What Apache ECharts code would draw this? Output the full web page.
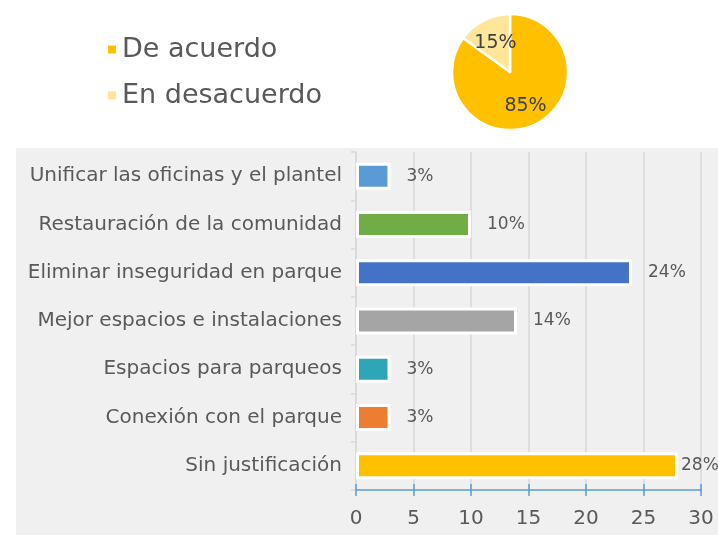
<!DOCTYPE html>
<html>
<head>
<meta charset="utf-8">
<script src="https://cdn.jsdelivr.net/npm/echarts@6/dist/echarts.min.js"></script>
<style>
  html, body { margin: 0; padding: 0; background: #ffffff; }
  #chart { width: 718px; height: 535px; }
</style>
</head>
<body>
<div id="chart"></div>
<script>
// Opinion split (pie)
const opinionNames = ['De acuerdo', 'En desacuerdo'];
const opinionValues = [85, 15];
const opinionColors = ['#FFC000', '#FFE699'];

// Justification breakdown (bars), listed top to bottom
const reasons = [
  'Unificar las oficinas y el plantel',
  'Restauración de la comunidad',
  'Eliminar inseguridad en parque',
  'Mejor espacios e instalaciones',
  'Espacios para parqueos',
  'Conexión con el parque',
  'Sin justificación'
];
const reasonValues = [3, 10, 24, 14, 3, 3, 28];
const reasonColors = ['#5B9BD5', '#70AD47', '#4472C4', '#A5A5A5', '#2EA6B7', '#ED7D31', '#FFC000'];
const axisTicks = [0, 5, 10, 15, 20, 25, 30];

const FONT = 'DejaVu Sans';
const TEXT = '#595959';
const AXIS_BLUE = '#5B9BD5';

// category axis draws bottom-up, so reverse for top-to-bottom order
const catsRev = reasons.slice().reverse();
const barData = reasonValues.map((v, i) => ({
  value: v,
  itemStyle: { color: reasonColors[i] },
  label: { distance: v >= 28 ? 3 : 16 }
})).reverse();

const pieData = opinionNames.map((n, i) => ({
  name: n,
  value: opinionValues[i],
  itemStyle: { color: opinionColors[i] },
  label: { offset: i === 0 ? [1, 6] : [0, 0] }
}));

const valueAxisBase = {
  type: 'value',
  min: axisTicks[0],
  max: axisTicks[axisTicks.length - 1],
  interval: 5,
  position: 'bottom'
};

const chart = echarts.init(document.getElementById('chart'));
chart.setOption({
  animation: false,
  textStyle: { fontFamily: FONT },
  graphic: [{
    type: 'rect',
    z: -10,
    shape: { x: 16, y: 148, width: 702, height: 387 },
    style: { fill: '#F0F0F0' }
  }],
  legend: {
    orient: 'vertical',
    left: 101,
    top: 31,
    itemWidth: 10,
    itemHeight: 10,
    itemGap: 19,
    icon: 'rect',
    data: opinionNames,
    textStyle: { fontFamily: FONT, fontSize: 27, color: TEXT, padding: [0, 0, 0, 0] }
  },
  grid: { left: 356, right: 17, top: 152, bottom: 45, containLabel: false },
  xAxis: [
    Object.assign({}, valueAxisBase, {
      axisLine: { show: true, lineStyle: { color: AXIS_BLUE, width: 1.5 } },
      axisTick: { show: true, inside: false, length: 6, lineStyle: { color: AXIS_BLUE, width: 1.5 } },
      splitLine: { show: true, lineStyle: { color: '#D9D9D9', width: 1.5 } },
      axisLabel: { fontFamily: FONT, fontSize: 20, color: TEXT, margin: 19 }
    }),
    // upper half of the crossing tick marks
    Object.assign({}, valueAxisBase, {
      axisLine: { show: false },
      axisTick: { show: true, inside: true, length: 6, lineStyle: { color: AXIS_BLUE, width: 1.5 } },
      splitLine: { show: false },
      axisLabel: { show: false }
    })
  ],
  yAxis: {
    type: 'category',
    data: catsRev,
    axisLine: { show: true, lineStyle: { color: '#D9D9D9', width: 1.5 } },
    axisTick: { show: true, length: 5, lineStyle: { color: '#D9D9D9', width: 1.5 } },
    axisLabel: { fontFamily: FONT, fontSize: 20, color: TEXT, margin: 14 }
  },
  series: [
    {
      type: 'pie',
      center: [510, 72],
      radius: [0, 58],
      startAngle: 90,
      clockwise: true,
      data: pieData,
      itemStyle: { borderColor: '#ffffff', borderWidth: 2.5 },
      label: {
        show: true,
        position: 'inside',
        formatter: '{c}%',
        fontFamily: FONT,
        fontSize: 19,
        color: '#404040'
      },
      labelLine: { show: false },
      emphasis: { disabled: true }
    },
    {
      type: 'bar',
      data: barData,
      barWidth: 27,
      itemStyle: { borderColor: '#ffffff', borderWidth: 3 },
      label: {
        show: true,
        position: 'right',
        formatter: '{c}%',
        fontFamily: FONT,
        fontSize: 17,
        color: TEXT
      },
      emphasis: { disabled: true }
    }
  ]
});
</script>
</body>
</html>
